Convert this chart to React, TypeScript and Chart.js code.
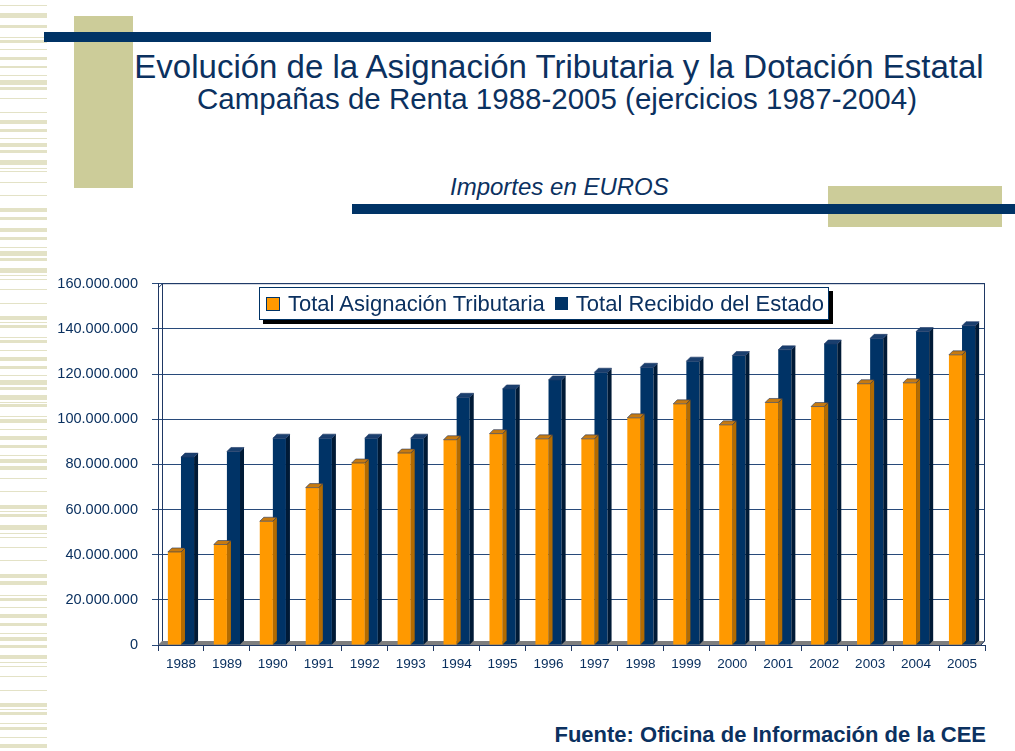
import React, { useEffect, useRef } from "react";
import { Chart, registerables } from "chart.js";

Chart.register(...registerables);

const years = ["1988","1989","1990","1991","1992","1993","1994","1995","1996","1997","1998","1999","2000","2001","2002","2003","2004","2005"];
const asignacion = [41.2,44.5,54.8,69.7,80.6,85.0,90.9,93.6,91.3,91.3,100.6,106.8,97.5,107.4,105.6,115.7,116.1,128.5].map(v => v * 1e6);
const recibido = [83.2,85.7,91.6,91.6,91.6,91.6,109.7,113.4,117.4,120.8,123.0,125.7,128.2,130.7,133.3,135.8,138.8,141.4].map(v => v * 1e6);
const seriesNames = ["Total Asignación Tributaria", "Total Recibido del Estado"];
const yMax = 160000000;
const yStep = 20000000;

const ORANGE = "#ff9900";
const NAVY = "#003366";
const TEXT = "#0b3160";
const BEIGE = "#cccc99";
const STRIPE = "#e3e2c6";
const FONT = "'Liberation Sans', Arial, sans-serif";

// decorative stripes on the left edge: [top, height]
const stripes: [number, number][] = [
  [5,1],[13,5],[25,3],[37,1],[40,3],[49,1],[57,3],[66,2],[75,1],[80,5],[87,3],[98,1],[112,1],[120,4],[129,3],[138,1],[143,4],[150,3],[160,5],[168,1],[171,1],[182,1],[195,1],[208,4],[217,3],[228,4],[237,3],[247,1],
  [251,5],[258,3],[268,5],[275,1],[279,1],[289,1],[303,1],[316,4],[322,1],[325,3],[337,1],[340,3],[350,1],[357,4],[366,3],[375,1],[380,5],[387,3],[395,5],[402,1],[404,3],[416,1],[419,4],[429,1],[436,4],[445,3],[455,1],[459,4],[466,4],[478,1],[491,1],[505,4],[511,1],[514,3],[525,5],[533,1],[537,1],[547,1],[560,1],[574,4],[581,4],[595,1],[598,3],[607,1],[614,4],[623,3],[633,1],[637,4],[645,3],[655,4],[662,1],[666,1],[676,1],[690,1],[703,4],[709,1],[712,3],[723,1],[727,3],[737,1],[744,4]
];

const fmt = (v: number) => String(Math.round(v)).replace(/\B(?=(\d{3})+(?!\d))/g, ".");

const depth = 4;

const threeD = {
  id: "threeD",
  afterDatasetDraw(chart: any, args: any) {
    const ctx = chart.ctx;
    const meta = chart.getDatasetMeta(args.index);
    const isOrange = args.index === 0;
    ctx.save();
    meta.data.forEach((bar: any) => {
      const p = bar.getProps(["x", "y", "base", "width"], true);
      const l = p.x - p.width / 2;
      const r = p.x + p.width / 2;
      ctx.fillStyle = isOrange ? "#b36b00" : "#001a36";
      ctx.beginPath();
      ctx.moveTo(r, p.y);
      ctx.lineTo(r + depth, p.y - depth);
      ctx.lineTo(r + depth, p.base - depth);
      ctx.lineTo(r, p.base);
      ctx.closePath();
      ctx.fill();
      ctx.fillStyle = isOrange ? "#c77a10" : "#1a3f6e";
      ctx.beginPath();
      ctx.moveTo(l, p.y);
      ctx.lineTo(l + depth, p.y - depth);
      ctx.lineTo(r + depth, p.y - depth);
      ctx.lineTo(r, p.y);
      ctx.closePath();
      ctx.fill();
      ctx.strokeStyle = "#1f3864";
      ctx.lineWidth = 0.6;
      ctx.stroke();
    });
    ctx.restore();
  },
};

const frame = {
  id: "frame",
  beforeDatasetsDraw(chart: any) {
    const { ctx, chartArea } = chart;
    const { left, right, bottom } = chartArea;
    ctx.save();
    ctx.fillStyle = "#7f7f7f";
    ctx.beginPath();
    ctx.moveTo(left, bottom);
    ctx.lineTo(left + depth, bottom - depth);
    ctx.lineTo(right, bottom - depth);
    ctx.lineTo(right - depth, bottom);
    ctx.closePath();
    ctx.fill();
    ctx.restore();
  },
  afterDraw(chart: any) {
    const { ctx, chartArea } = chart;
    const { left, right, top, bottom } = chartArea;
    ctx.save();
    ctx.strokeStyle = "#1f3864";
    ctx.lineWidth = 1;
    ctx.beginPath();
    ctx.moveTo(left + depth + 0.5, bottom - depth);
    ctx.lineTo(left + depth + 0.5, top);
    ctx.lineTo(right - 0.5, top);
    ctx.lineTo(right - 0.5, bottom - depth);
    ctx.lineTo(right - depth, bottom);
    ctx.moveTo(left + 0.5, top + depth);
    ctx.lineTo(left + depth + 0.5, top);
    ctx.stroke();
    ctx.restore();
  },
};

function BarChart() {
  const ref = useRef<HTMLCanvasElement>(null);
  useEffect(() => {
    if (!ref.current) return;
    const chart = new Chart(ref.current, {
      type: "bar",
      data: {
        labels: years,
        datasets: [
          { label: seriesNames[0], data: asignacion, backgroundColor: ORANGE, borderWidth: 0, categoryPercentage: 0.57, barPercentage: 1 },
          { label: seriesNames[1], data: recibido, backgroundColor: NAVY, borderWidth: 0, categoryPercentage: 0.57, barPercentage: 1 },
        ],
      },
      options: {
        animation: false,
        responsive: false,
        devicePixelRatio: 1,
        layout: { padding: { top: 6, right: 30, left: 0, bottom: 0 } },
        plugins: { legend: { display: false }, tooltip: { enabled: false }, title: { display: false } },
        scales: {
          x: {
            grid: { drawOnChartArea: false, drawTicks: true, tickLength: 6, color: "#1f3864", offset: true },
            border: { display: true, color: "#1f3864" },
            ticks: { color: TEXT, font: { family: FONT, size: 13.5 }, padding: 5, maxRotation: 0 },
            afterFit: (s: any) => { s.height = 40; },
          },
          y: {
            min: 0,
            max: yMax,
            grid: { color: "#284a7a", lineWidth: 1, drawTicks: true, tickLength: 6 },
            border: { display: true, color: "#1f3864" },
            ticks: { stepSize: yStep, color: TEXT, font: { family: FONT, size: 14.5 }, padding: 14, callback: (v: any) => fmt(Number(v)) },
            afterFit: (s: any) => { s.width = 158; },
          },
        },
      },
      plugins: [frame, threeD],
    });
    return () => chart.destroy();
  }, []);
  return (
    <canvas ref={ref} width={1015} height={424}
      style={{ position: "absolute", left: 0, top: 261, width: 1015, height: 424 }} />
  );
}

export default function App() {
  useEffect(() => {
    document.body.style.margin = "0";
    document.body.style.overflow = "hidden";
  }, []);
  const abs = (o: any) => ({ position: "absolute" as const, ...o });
  return (
    <div style={abs({ left: 0, top: 0, width: 1015, height: 751, background: "#fff", overflow: "hidden", fontFamily: FONT })}>
      {stripes.map(([t, h], i) => (
        <div key={i} style={abs({ left: 0, top: t, width: 47, height: h, background: STRIPE })} />
      ))}
      <div style={abs({ left: 74, top: 16, width: 59, height: 172, background: BEIGE })} />
      <div style={abs({ left: 44, top: 32, width: 667, height: 10, background: NAVY })} />
      <div style={abs({ left: 828, top: 186, width: 174, height: 41, background: BEIGE })} />
      <div style={abs({ left: 352, top: 204, width: 663, height: 10, background: NAVY })} />
      <div style={abs({ left: 59, top: 49.8, width: 1000, textAlign: "center", fontSize: 33, lineHeight: "33px", color: TEXT, whiteSpace: "nowrap" })}>
        Evolución de la Asignación Tributaria y la Dotación Estatal
      </div>
      <div style={abs({ left: 57, top: 84.3, width: 1000, textAlign: "center", fontSize: 29.5, lineHeight: "29.5px", color: TEXT, whiteSpace: "nowrap" })}>
        Campañas de Renta 1988-2005 (ejercicios 1987-2004)
      </div>
      <div style={abs({ left: 450, top: 174.7, fontSize: 24, lineHeight: "24px", fontStyle: "italic", color: TEXT, whiteSpace: "nowrap" })}>
        Importes en EUROS
      </div>
      <BarChart />
      <div style={abs({ left: 259, top: 287, width: 568, height: 31, border: `1px solid ${NAVY}`, background: "#fff", boxShadow: "4px 4px 0 #000", display: "flex", alignItems: "center", whiteSpace: "nowrap", fontSize: 22, color: TEXT })}>
        <span style={{ display: "inline-block", width: 12, height: 12, background: ORANGE, border: `1px solid ${NAVY}`, marginLeft: 6, marginRight: 8 }} />
        <span>{seriesNames[0]}</span>
        <span style={{ display: "inline-block", width: 13, height: 13, background: NAVY, marginLeft: 10, marginRight: 8 }} />
        <span>{seriesNames[1]}</span>
      </div>
      <div style={abs({ right: 29, top: 724.4, fontSize: 22, lineHeight: "22px", fontWeight: "bold", color: TEXT, whiteSpace: "nowrap" })}>
        Fuente: Oficina de Información de la CEE
      </div>
    </div>
  );
}
